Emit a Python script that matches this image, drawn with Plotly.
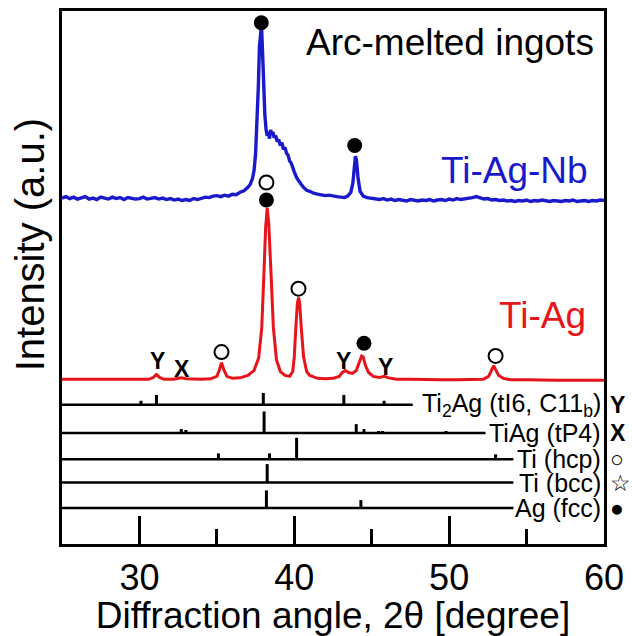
import plotly.graph_objects as go

# ---------------- data (intensity in arbitrary units above each baseline) -------------
tt_tiag = [25.0, 26.0, 27.0, 28.0, 29.0, 30.0, 30.6, 30.9, 31.1, 31.3, 31.6, 32.2, 32.5, 32.7,
           33.0, 33.5, 34.0, 34.6, 35.0, 35.15, 35.3, 35.45, 35.65, 36.0, 36.5, 37.0, 37.4,
           37.7, 37.9, 38.05, 38.15, 38.25, 38.35, 38.5, 38.65, 38.85, 39.1, 39.4, 39.7, 39.9,
           40.0, 40.1, 40.2, 40.28, 40.35, 40.45, 40.6, 40.8, 41.0, 41.5, 42.0, 42.5, 42.9,
           43.1, 43.3, 43.5, 43.75, 44.0, 44.2, 44.35, 44.45, 44.6, 44.8, 45.1, 45.5, 45.8,
           46.1, 46.6, 47.5, 48.5, 49.5, 50.5, 51.5, 52.2, 52.55, 52.75, 52.88, 53.0, 53.2,
           53.5, 54.0, 55.0, 56.0, 57.0, 58.0, 59.0, 60.0]
int_tiag = [2, 2, 1.5, 2, 1.5, 2, 2, 4, 7, 4, 2, 2, 3, 3.5,
            2.5, 2, 2, 2.5, 5, 11, 19, 12, 5, 3, 3.5, 6, 11,
            24, 55, 115, 158, 178, 162, 110, 55, 22, 10, 6, 5, 10,
            25, 55, 80, 86, 80, 55, 25, 10, 6, 3, 2.5, 3, 5,
            9, 11, 9, 8, 11, 20, 26, 25, 16, 9, 5, 4, 5,
            3.5, 2, 2, 1.5, 1.5, 1.5, 2, 2, 5, 12, 16, 12, 6,
            3, 1.5, 1.5, 1, 1, 1, 1, 1]

tt_tiagnb = [25.0, 25.25, 25.5, 25.75, 26.0, 26.25, 26.5, 26.75, 27.0, 27.25, 27.5, 27.75,
             28.0, 28.25, 28.5, 28.75, 29.0, 29.25, 29.5, 29.75, 30.0, 30.25, 30.5, 30.75,
             31.0, 31.25, 31.5, 31.75, 32.0, 32.25, 32.5, 32.75, 33.0, 33.25, 33.5, 33.75,
             34.0, 34.25, 34.5, 34.75, 35.0, 35.25, 35.5, 35.75, 36.0, 36.25, 36.5, 36.75,
             37.0, 37.15, 37.3, 37.4, 37.5, 37.6, 37.68, 37.75, 37.82, 37.88, 37.95, 38.02,
             38.1, 38.18, 38.25, 38.32, 38.4, 38.47, 38.55, 38.62, 38.7, 38.8, 38.9, 39.0,
             39.1, 39.2, 39.3, 39.4, 39.5, 39.6, 39.7, 39.8, 39.9, 40.0, 40.15, 40.3, 40.45,
             40.6, 40.8, 41.0, 41.25, 41.5, 41.75, 42.0, 42.25, 42.5, 42.75, 43.0, 43.25,
             43.45, 43.65, 43.78, 43.88, 43.95, 44.02, 44.12, 44.25, 44.45, 44.7, 45.0, 45.25,
             45.5, 45.75, 46.0, 46.25, 46.5, 46.75, 47.0, 47.25, 47.5, 47.75, 48.0, 48.25,
             48.5, 48.75, 49.0, 49.25, 49.5, 49.75, 50.0, 50.25, 50.5, 50.75, 51.0, 51.25,
             51.5, 51.75, 52.0, 52.25, 52.5, 52.75, 53.0, 53.25, 53.5, 53.75, 54.0, 54.25,
             54.5, 54.75, 55.0, 55.25, 55.5, 55.75, 56.0, 56.25, 56.5, 56.75, 57.0, 57.25,
             57.5, 57.75, 58.0, 58.25, 58.5, 58.75, 59.0, 59.25, 59.5, 59.75, 60.0]
int_tiagnb = [0, 1.5, -0.5, 1, -1, 0.5, 1.5, -1, 0, -1.5, 1, 0,
              -1, 1, -0.5, 0.5, -1.5, 0.5, 0, -1, -0.5, 1, -1, 0,
              0.5, -1, 0, -1.5, -0.5, -2, -1, -2.5, -1.5, -2.5, -0.5, -1.5,
              0, 1, 0.5, 2, 2.5, 1.5, 3, 2, 4, 3.5, 6, 7.5,
              11, 14, 20, 28, 45, 75, 115, 155, 175, 178, 150, 110,
              85, 70, 64, 68, 61, 70, 65, 68, 62, 64, 58, 60,
              54, 57, 50, 52, 46, 44, 38, 36, 30, 27, 21, 17, 14,
              11, 8, 7, 5, 4, 3.5, 2.5, 3, 2, 1.5, 1, 0.5,
              2, 6, 15, 32, 43, 38, 20, 7, 2, 0.5, 0, -1,
              -1.5, -0.5, -2, -1, -2.5, -1.5, -2, -3, -1.5, -2.5, -3, -2,
              -2.5, -1.5, -3, -2, -1.5, -2.5, -1, -2, -0.5, -1.5, -1, 0,
              0.5, 1.5, 0, -1, -0.5, -2, -1.5, -2.5, -2, -3, -2.5, -3.5,
              -2.5, -3, -2, -3.5, -2.5, -3, -2, -2.5, -3.5, -2.5, -3, -3.5,
              -2.5, -3, -2, -3.5, -3, -2.5, -3.5, -2.5, -3, -2, -2.5]

offset_tiag = 167
offset_tiagnb = 355

# reference patterns
ref_labels = ["Ti<sub>2</sub>Ag (tI6, C11<sub>b</sub>)", "TiAg (tP4)", "Ti (hcp)", "Ti (bcc)", "Ag (fcc)"]
ref_symbols = ["<b>Y</b>", "<b>X</b>", "○", "☆", "●"]
ref_baseline = [143, 114, 87, 63, 37]
ref_line_end = [47.65, 52.35, 54.15, 54.15, 54.15]
ref_pos = [
    [30.1, 31.1, 38.0, 43.2, 45.8],
    [32.7, 33.0, 38.05, 44.0, 44.5, 45.45, 45.7, 49.8],
    [35.1, 38.4, 40.15, 53.0],
    [38.25],
    [38.2, 44.3],
]
ref_h = [
    [4, 10, 12, 10, 4],
    [4, 3, 22, 9, 4, 2, 2, 2],
    [6, 6, 22, 5],
    [19],
    [18, 8],
]

# peak markers
open_x = [35.3, 38.2, 40.27, 53.0]
open_y = [197, 371, 262, 193]
fill_x = [38.2, 44.5, 37.87, 43.9]
fill_y = [353, 206, 535, 409]
letter_txt = ["Y", "X", "Y", "Y"]
letter_x = [31.15, 32.75, 43.2, 45.9]
letter_y = [188, 180, 188, 182]

FONT = "Liberation Sans, Arial, sans-serif"

fig = go.Figure()

# reference lines & sticks
for i in range(len(ref_labels)):
    b = ref_baseline[i]
    fig.add_trace(go.Scatter(x=[25, ref_line_end[i]], y=[b, b], mode="lines",
                             line=dict(color="black", width=2.5), showlegend=False,
                             hoverinfo="skip", cliponaxis=False))
    sx, sy = [], []
    for p, h in zip(ref_pos[i], ref_h[i]):
        sx += [p, p, None]
        sy += [b, b + h, None]
    fig.add_trace(go.Scatter(x=sx, y=sy, mode="lines", line=dict(color="black", width=3),
                             showlegend=False, hoverinfo="skip"))

fig.add_trace(go.Scatter(x=tt_tiag, y=[v + offset_tiag for v in int_tiag], mode="lines",
                         line=dict(color="#e8141c", width=3), showlegend=False))
fig.add_trace(go.Scatter(x=tt_tiagnb, y=[v + offset_tiagnb for v in int_tiagnb], mode="lines",
                         line=dict(color="#1a1acc", width=3.4), showlegend=False))

fig.add_trace(go.Scatter(x=open_x, y=open_y, mode="markers",
                         marker=dict(symbol="circle-open", size=14, color="black",
                                     line=dict(width=2, color="black")),
                         showlegend=False))
fig.add_trace(go.Scatter(x=fill_x, y=fill_y, mode="markers",
                         marker=dict(symbol="circle", size=15, color="black"),
                         showlegend=False, cliponaxis=False))

annotations = []
for t, x, y in zip(letter_txt, letter_x, letter_y):
    annotations.append(dict(x=x, y=y, xref="x", yref="y", text="<b>%s</b>" % t,
                            showarrow=False, font=dict(family=FONT, size=23, color="black")))

for i in range(len(ref_labels)):
    annotations.append(dict(x=(605 - 62) / 544, y=ref_baseline[i], xref="paper", yref="y",
                            xanchor="right", yanchor="middle", text=ref_labels[i],
                            showarrow=False, font=dict(family=FONT, size=25, color="black")))
    annotations.append(dict(x=(610 - 62) / 544, y=ref_baseline[i], xref="paper", yref="y",
                            xanchor="left", yanchor="middle", text=ref_symbols[i],
                            showarrow=False, font=dict(family=FONT, size=23, color="black")))

annotations.append(dict(x=(598 - 62) / 544, y=555 - 40, xref="paper", yref="y", xanchor="right",
                        yanchor="middle", text="Arc-melted ingots", showarrow=False,
                        font=dict(family=FONT, size=37, color="black")))
annotations.append(dict(x=(592 - 62) / 544, y=555 - 172, xref="paper", yref="y", xanchor="right",
                        yanchor="middle", text="Ti-Ag-Nb", showarrow=False,
                        font=dict(family=FONT, size=37, color="#1a1acc")))
annotations.append(dict(x=(590 - 62) / 544, y=555 - 320, xref="paper", yref="y", xanchor="right",
                        yanchor="middle", text="Ti-Ag", showarrow=False,
                        font=dict(family=FONT, size=37, color="#e8141c")))
annotations.append(dict(x=-0.06, y=555 - 248, xref="paper", yref="y", xanchor="center",
                        yanchor="middle", text="Intensity (a.u.)", textangle=-90,
                        showarrow=False, font=dict(family=FONT, size=40, color="black")))

fig.update_layout(
    width=632, height=636,
    margin=dict(l=62, r=26, t=8, b=81),
    paper_bgcolor="white", plot_bgcolor="white",
    annotations=annotations,
    xaxis=dict(range=[25, 60], tickvals=[30, 40, 50, 60], ticks="inside", ticklen=28,
               tickwidth=2.5, tickcolor="black", showline=True, linecolor="black",
               linewidth=2.5, mirror=True, showgrid=False, zeroline=False,
               tickfont=dict(family=FONT, size=36, color="black"),
               minor=dict(dtick=5, tick0=25, ticks="inside", ticklen=15, tickwidth=2.5,
                          tickcolor="black", showgrid=False),
               title=dict(text="Diffraction angle, 2θ [degree]", standoff=4,
                          font=dict(family=FONT, size=37, color="black"))),
    yaxis=dict(range=[0, 547], showticklabels=False, ticks="", showline=True,
               linecolor="black", linewidth=2.5, mirror=True, showgrid=False, zeroline=False),
)

fig.write_html("out.html")
